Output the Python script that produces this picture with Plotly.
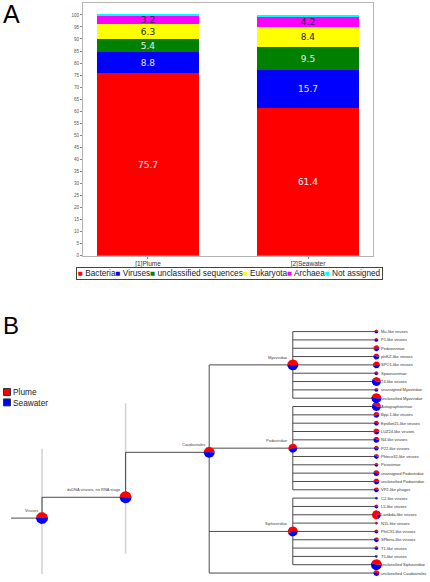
import math
import plotly.graph_objects as go

W, H = 430, 582

# ---------------- Panel A data ----------------
samples = ["[1]Plume", "[2]Seawater"]
groups = ["Bacteria", "Viruses", "unclassified sequences", "Eukaryota", "Archaea", "Not assigned"]
bacteria = [75.7, 61.4]
viruses = [8.8, 15.7]
unclassified = [5.4, 9.5]
eukaryota = [6.3, 8.4]
archaea = [3.2, 4.2]
not_assigned = [0.6, 0.8]
y_ticks = list(range(0, 101, 5))

# ---------------- Panel B data ----------------
root_name = "Viruses"
dsdna_name = "dsDNA viruses, no RNA stage"
order_name = "Caudovirales"
family_names = ["Myoviridae", "Podoviridae", "Siphoviridae"]
myo_leaves = ["Mu-like viruses", "P1-like viruses", "Peduovirinae", "phiKZ-like viruses",
              "SPO1-like viruses", "Spounavirinae", "T4-like viruses",
              "unassigned Myoviridae", "unclassified Myoviridae"]
myo_size = [11, 11, 25, 25, 34, 11, 56, 11, 70]
myo_plume = [0.5, 0.4, 0.6, 0.42, 0.55, 0.4, 0.4, 0.5, 0.45]
podo_leaves = ["Autographivirinae", "Bpp-1-like viruses", "Epsilon15-like viruses",
               "LUZ24-like viruses", "N4-like viruses", "P22-like viruses",
               "Phieco32-like viruses", "Picovirinae", "unassigned Podoviridae",
               "unclassified Podoviridae", "VP2-like phages"]
podo_size = [56, 25, 17, 25, 25, 17, 17, 11, 25, 25, 17]
podo_plume = [0.4, 0.6, 0.45, 0.6, 0.4, 0.5, 0.4, 0.5, 0.45, 0.55, 0.45]
sipho_leaves = ["C2-like viruses", "L5-like viruses", "Lambda-like viruses", "N15-like viruses",
                "PhiC31-like viruses", "SPbeta-like viruses", "T1-like viruses",
                "T5-like viruses", "unclassified Siphoviridae"]
sipho_size = [6, 11, 56, 6, 11, 17, 11, 6, 84]
sipho_plume = [0.5, 0.5, 0.8, 0.7, 0.5, 0.4, 0.5, 0.3, 0.45]
uncl_caudo_name = "unclassified Caudovirales"
uncl_caudo_size = 25
uncl_caudo_plume = 0.45
family_size = [84, 56, 70]
family_plume = [0.5, 0.55, 0.55]
upper_size = [100, 100, 84]          # Viruses, dsDNA, Caudovirales
upper_plume = [0.5, 0.5, 0.5]

# ---------------- helpers ----------------
def px(x):
    return x / W

def py(y):
    return 1 - y / H

fig = go.Figure()

# ---------------- Panel A ----------------
series = [bacteria, viruses, unclassified, eukaryota, archaea, not_assigned]
colors = ["#ff0000", "#0000ff", "#008000", "#ffff00", "#ff00ff", "#00ffff"]
text_colors = ["#f4f4ff", "#e8e8ff", "#e8f0e8", "#222222", "#2a1a50", "#222222"]
for name, vals, col, tc in zip(groups, series, colors, text_colors):
    show_text = name != "Not assigned"
    fig.add_trace(go.Bar(
        x=samples, y=vals, name=name, width=0.6375,
        marker=dict(color=col, line=dict(width=0)),
        text=[f"{v}" for v in vals] if show_text else None,
        textposition="inside" if show_text else "none",
        insidetextanchor="middle", textangle=0,
        textfont=dict(family="DejaVu Sans", size=9, color=tc),
        hoverinfo="skip", showlegend=False, xaxis="x", yaxis="y"))

legend_txt = "".join(
    f"<span style='color:{c}'>■</span> {g}" for g, c in zip(groups, colors))

# ---------------- Panel B tree ----------------
PXD = 83.6     # px per depth level
PXL = 8.37     # px per leaf slot

leaves, leaf_size, leaf_plume, leaf_family = [], [], [], []
for fi, (lv, sz, pl) in enumerate([(myo_leaves, myo_size, myo_plume),
                                   (podo_leaves, podo_size, podo_plume),
                                   (sipho_leaves, sipho_size, sipho_plume)]):
    leaves += lv
    leaf_size += sz
    leaf_plume += pl
    leaf_family += [fi] * len(lv)
leaves.append(uncl_caudo_name)
leaf_size.append(uncl_caudo_size)
leaf_plume.append(uncl_caudo_plume)
leaf_family.append(-1)
leaf_y = list(range(len(leaves)))

fam_y = []
for fi in range(len(family_names)):
    idx = [i for i, f in enumerate(leaf_family) if f == fi]
    fam_y.append((min(idx) + max(idx)) / 2)
order_y = (leaf_y[0] + leaf_y[-1]) / 2
dsdna_y = order_y + 5.4
root_y = order_y + 7.9

nodes = []  # (name, depth, y, size, plume, is_leaf)
nodes.append((root_name, 0, root_y, upper_size[0], upper_plume[0], False))
nodes.append((dsdna_name, 1, dsdna_y, upper_size[1], upper_plume[1], False))
nodes.append((order_name, 2, order_y, upper_size[2], upper_plume[2], False))
for fi, fn in enumerate(family_names):
    nodes.append((fn, 3, fam_y[fi], family_size[fi], family_plume[fi], False))
for i, ln in enumerate(leaves):
    nodes.append((ln, 4, leaf_y[i], leaf_size[i], leaf_plume[i], True))

# guide lines (light gray)
gx, gy = [], []
for d, a, b in [(0, order_y - 0.44, leaf_y[-1] + 0.1), (1, -0.4 + 9, 26.7)]:
    gx += [d, d, None]
    gy += [a, b, None]
fig.add_trace(go.Scatter(x=gx, y=gy, mode="lines", line=dict(color="#d2d2d2", width=1.5),
                         hoverinfo="skip", showlegend=False, xaxis="x2", yaxis="y2"))

# edges
ex, ey = [], []
def seg(x0, y0, x1, y1):
    ex.extend([x0, x1, None])
    ey.extend([y0, y1, None])

seg(-0.37, root_y, 0, root_y)
seg(0, root_y, 0, dsdna_y); seg(0, dsdna_y, 1, dsdna_y)
seg(1, dsdna_y, 1, order_y); seg(1, order_y, 2, order_y)
seg(2, fam_y[0], 2, leaf_y[-1])
for fy in fam_y:
    seg(2, fy, 3, fy)
seg(2, leaf_y[-1], 4, leaf_y[-1])
for fi in range(len(family_names)):
    idx = [i for i, f in enumerate(leaf_family) if f == fi]
    seg(3, leaf_y[idx[0]], 3, leaf_y[idx[-1]])
    for i in idx:
        seg(3, leaf_y[i], 4, leaf_y[i])
fig.add_trace(go.Scatter(x=ex, y=ey, mode="lines", line=dict(color="#4a4a4a", width=1),
                         hoverinfo="skip", showlegend=False, xaxis="x2", yaxis="y2"))

# pies
rx, ry, bx, by = [], [], [], []
for name, d, y, size, pl, is_leaf in nodes:
    r = 6 * math.sqrt(size / 100)
    a_split = 2 * math.pi * pl
    for (lo, hi, xs, ys) in [(0, a_split, rx, ry), (a_split, 2 * math.pi, bx, by)]:
        n = max(4, int(48 * (hi - lo) / (2 * math.pi)))
        xs.append(d); ys.append(y)
        for k in range(n + 1):
            t = lo + (hi - lo) * k / n
            xs.append(d + r * math.cos(t) / PXD)
            ys.append(y - r * math.sin(t) / PXL)
        xs.append(d); ys.append(y)
        xs.append(None); ys.append(None)
for xs, ys, c in [(rx, ry, "#ff0000"), (bx, by, "#0000ff")]:
    fig.add_trace(go.Scatter(x=xs, y=ys, mode="lines", fill="toself", fillcolor=c,
                             line=dict(width=0, color=c), hoverinfo="skip",
                             showlegend=False, xaxis="x2", yaxis="y2"))

annotations = []
for name, d, y, size, pl, is_leaf in nodes:
    if is_leaf:
        annotations.append(dict(x=d + 3.5 / PXD, y=y, xref="x2", yref="y2", text=name,
                                showarrow=False, xanchor="left", yanchor="middle",
                                borderpad=0, font=dict(family="Liberation Sans", size=4, color="#333")))
    else:
        annotations.append(dict(x=d - 3.5 / PXD, y=y - 7.5 / PXL, xref="x2", yref="y2", text=name,
                                showarrow=False, xanchor="right", yanchor="middle",
                                borderpad=0, font=dict(family="Liberation Sans", size=4, color="#444")))

# panel letters & legends
annotations += [
    dict(x=px(2), y=py(14), xref="paper", yref="paper", text="A", showarrow=False,
         xanchor="left", yanchor="middle", borderpad=0,
         font=dict(family="Liberation Sans", size=25, color="black")),
    dict(x=px(2), y=py(327), xref="paper", yref="paper", text="B", showarrow=False,
         xanchor="left", yanchor="middle", borderpad=0,
         font=dict(family="Liberation Sans", size=24, color="black")),
    dict(x=px(230), y=py(275), xref="paper", yref="paper", text=legend_txt, showarrow=False,
         xanchor="center", yanchor="middle", bordercolor="#444", borderwidth=1, borderpad=1,
         bgcolor="white", font=dict(family="Liberation Sans", size=8.25, color="#222")),
    dict(x=px(11.5), y=py(394), xref="paper", yref="paper", text="Plume", showarrow=False,
         xanchor="left", yanchor="middle", borderpad=0,
         font=dict(family="Liberation Sans", size=8.3, color="#222")),
    dict(x=px(11.5), y=py(405), xref="paper", yref="paper", text="Seawater", showarrow=False,
         xanchor="left", yanchor="middle", borderpad=0,
         font=dict(family="Liberation Sans", size=8.3, color="#222")),
]
shapes = [
    dict(type="rect", xref="paper", yref="paper", x0=px(3.5), x1=px(10.5), y0=py(390.5), y1=py(397.5),
         fillcolor="#ff0000", line=dict(color="#333", width=1)),
    dict(type="rect", xref="paper", yref="paper", x0=px(3.5), x1=px(10.5), y0=py(401), y1=py(408),
         fillcolor="#0000ff", line=dict(color="#333", width=1)),
]

fig.update_layout(
    width=W, height=H, margin=dict(l=0, r=0, t=0, b=0),
    paper_bgcolor="white", plot_bgcolor="white",
    barmode="stack", showlegend=False,
    uniformtext=dict(minsize=9, mode="show"),
    annotations=annotations, shapes=shapes,
    xaxis=dict(domain=[px(83), px(373)], range=[-0.406, 1.406], type="category",
               showline=True, linecolor="#b4b4b4", linewidth=1, mirror=True,
               ticks="outside", ticklen=2, tickcolor="#888",
               tickfont=dict(family="Liberation Sans", size=6.5, color="#333"),
               showgrid=False, zeroline=False, fixedrange=True, anchor="y"),
    yaxis=dict(domain=[py(257), py(3.5)], range=[0, 104.75], tickvals=y_ticks,
               showline=True, linecolor="#b4b4b4", linewidth=1, mirror=True,
               ticks="outside", ticklen=2, tickcolor="#888",
               tickfont=dict(family="Liberation Sans", size=4.5, color="#555"),
               showgrid=False, zeroline=False, fixedrange=True, anchor="x"),
    xaxis2=dict(domain=[0, 1], range=[-42 / PXD, (W - 42) / PXD], visible=False,
                anchor="y2", fixedrange=True),
    yaxis2=dict(domain=[0, py(291)], range=[(H - 333.3) / PXL, (291 - 333.3) / PXL],
                visible=False, anchor="x2", fixedrange=True),
)

fig.write_html("out.html", config={"displayModeBar": False},
               post_script="document.body.style.margin='0';document.body.style.overflow='hidden';")
